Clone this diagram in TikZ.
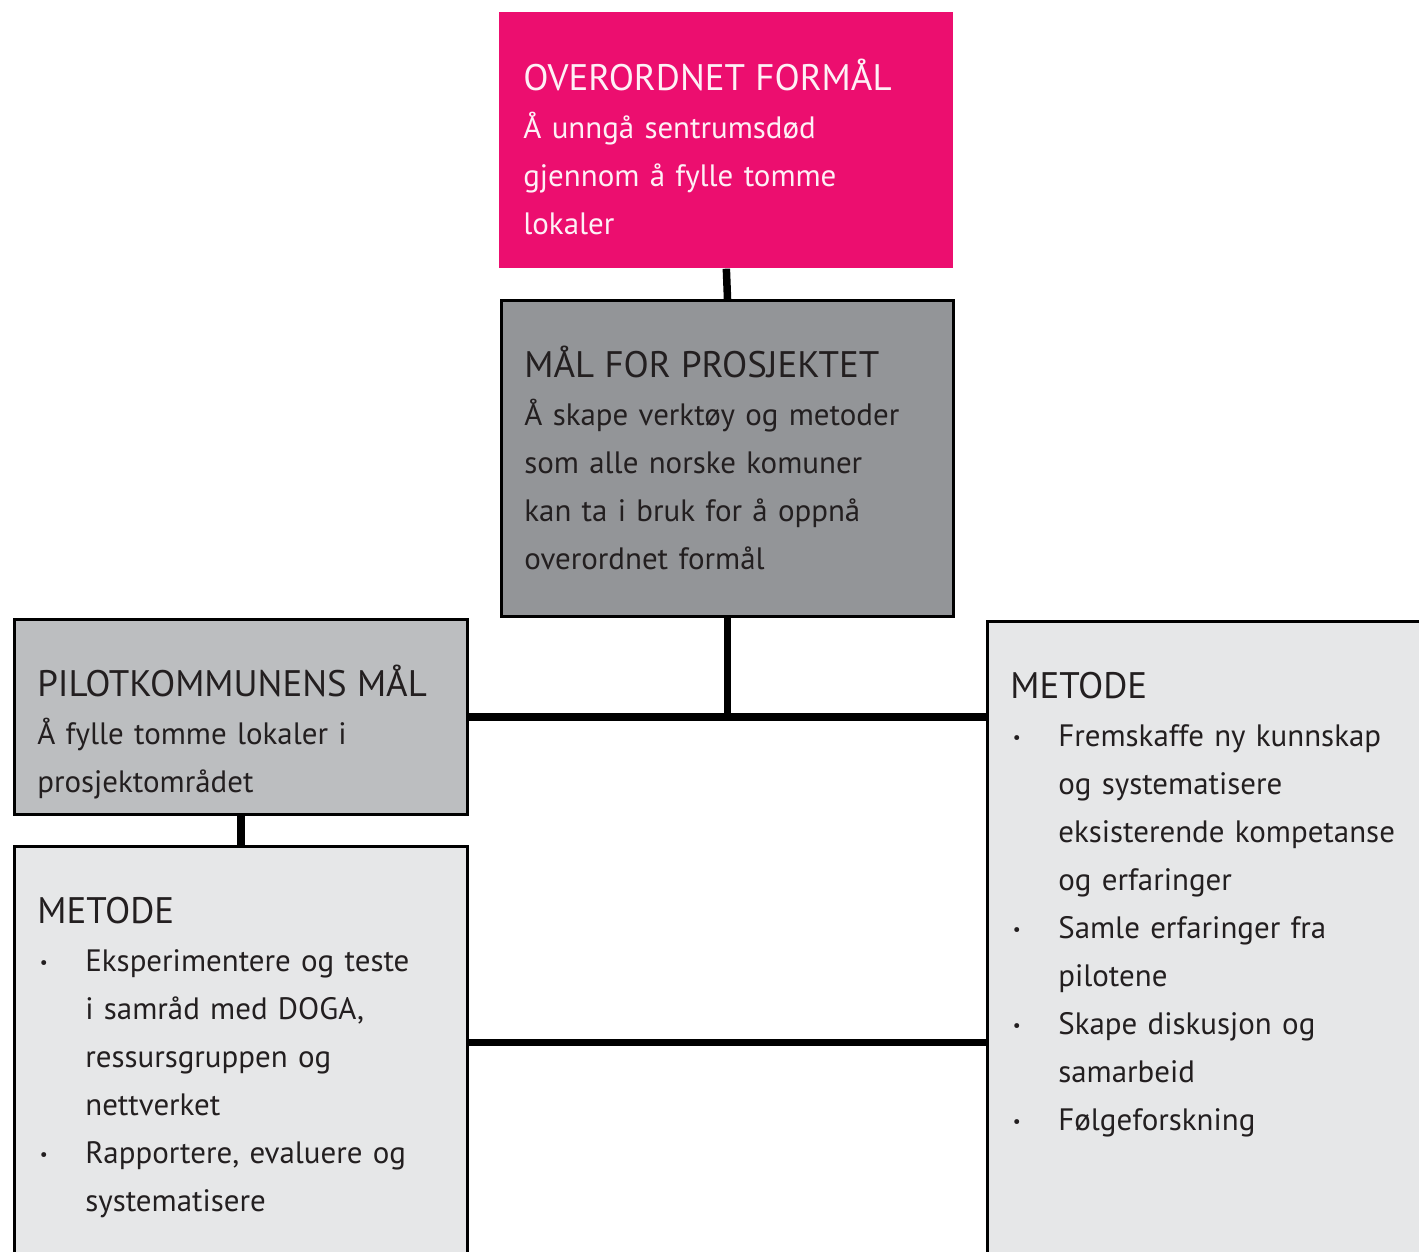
\documentclass[tikz,border=0pt]{standalone}
\usepackage{fontspec}
\setmainfont{PT Sans}
\usepackage{xcolor}
\usepackage{tikz}
\definecolor{goalpink}{HTML}{EC0E6F}
\definecolor{darkgrey}{HTML}{939598}
\definecolor{midgrey}{HTML}{BCBEC0}
\definecolor{lightgrey}{HTML}{E6E7E8}
\definecolor{inkgrey}{HTML}{231F20}
\newcommand{\hd}[1]{\rule{0pt}{1cm}{\fontsize{21}{27.3}\selectfont #1}}
\newcommand{\itm}{\makebox[0.96cm][l]{\hspace{0.05cm}\raisebox{0.06cm}{\fontsize{10}{10}\selectfont\textbullet}}}
\newcommand{\ind}{\hspace*{0.96cm}}

\begin{document}
\begin{tikzpicture}[every node/.style={font=\fontsize{17.6}{27.3}\selectfont}]
    % Define styles
    \tikzstyle{goalbox} = [rectangle, anchor=north west, inner sep=0pt, fill=goalpink]
    \tikzstyle{aimbox} = [rectangle, anchor=north west, inner sep=0pt, draw=black, line width=0.06cm]
    \tikzstyle{boxtext} = [anchor=north west, inner sep=0pt, text width=9cm, align=left, text=inkgrey, xshift=0.48cm, yshift=-0.56cm]
    \tikzstyle{link} = [line width=0.15cm, black]

    \useasboundingbox (0,0) rectangle (28.38,-25.04);

    % Top level
    \node (formal) [goalbox, minimum width=9.08cm, minimum height=5.12cm] at (9.98,-0.24) {};
    \node (mal) [aimbox, fill=darkgrey, minimum width=9.04cm, minimum height=6.32cm] at (10.0,-5.98) {};

    % Pilot side
    \node (pilot) [aimbox, fill=midgrey, minimum width=9.06cm, minimum height=3.9cm] at (0.26,-12.36) {};
    \node (metL) [aimbox, fill=lightgrey, minimum width=9.06cm, minimum height=8.8cm] at (0.26,-16.9) {};

    % Project side
    \node (metR) [aimbox, fill=lightgrey, minimum width=9.6cm, minimum height=16.84cm] at (19.72,-12.4) {};

    % Texts
    \node (formaltxt) [boxtext, text=white!94!goalpink] at (formal.north west)
        {\hd{OVERORDNET FORMÅL}\\
         Å unngå sentrumsdød\\
         gjennom å fylle tomme\\
         lokaler};
    \node (maltxt) [boxtext] at (mal.north west)
        {\hd{MÅL FOR PROSJEKTET}\\
         Å skape verktøy og metoder\\
         som alle norske komuner\\
         kan ta i bruk for å oppnå\\
         overordnet formål};
    \node (pilottxt) [boxtext] at (pilot.north west)
        {\hd{PILOTKOMMUNENS MÅL}\\
         Å fylle tomme lokaler i\\
         prosjektområdet};
    \node (metLtxt) [boxtext] at (metL.north west)
        {\hd{METODE}\\
         \itm Eksperimentere og teste\\
         \ind i samråd med DOGA,\\
         \ind ressursgruppen og\\
         \ind nettverket\\
         \itm Rapportere, evaluere og\\
         \ind systematisere};
    \node (metRtxt) [boxtext] at (metR.north west)
        {\hd{METODE}\\
         \itm Fremskaffe ny kunnskap\\
         \ind og systematisere\\
         \ind eksisterende kompetanse\\
         \ind og erfaringer\\
         \itm Samle erfaringer fra\\
         \ind pilotene\\
         \itm Skape diskusjon og\\
         \ind samarbeid\\
         \itm Følgeforskning};

    % Connections
    \draw [link] (formal.south) -- (mal.north);
    \draw [link] (mal.south) -- (mal.south |- pilot.east);
    \draw [link] (pilot.east) -- (pilot.east -| metR.west);
    \draw [link] (pilot.south) -- (metL.north);
    \draw [link] (metR.west) -- (metR.west -| metL.east);
\end{tikzpicture}
\end{document}
